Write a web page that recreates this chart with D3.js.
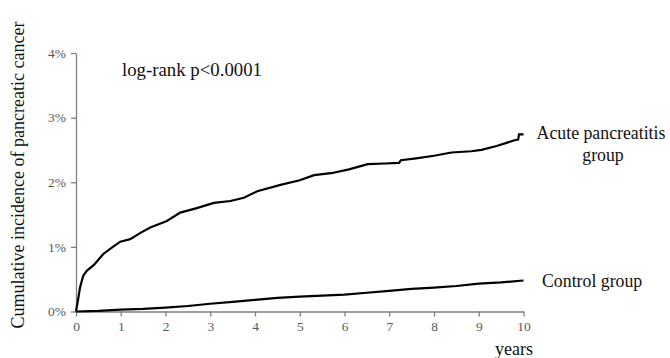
<!DOCTYPE html>
<html>
<head>
<meta charset="utf-8">
<script src="https://cdn.jsdelivr.net/npm/d3@7"></script>
<style>
  body { margin: 0; background: #fff; }
</style>
</head>
<body>
<div class="chart"></div>
<script>
var svgWidth = 670;
var svgHeight = 358;
var serif = "Liberation Serif";

// values (years, % cumulative incidence)
var acuteYears = [0, 0.05, 0.09, 0.16, 0.24, 0.4, 0.61, 0.8, 0.99, 1.21, 1.45, 1.66, 2.03, 2.33, 2.7, 3.08, 3.45, 3.75, 4.05, 4.57, 5.0, 5.32, 5.7, 6.1, 6.52, 6.9, 7.22, 7.26, 7.6, 8.0, 8.39, 8.83, 9.06, 9.4, 9.8, 9.88, 9.9, 10];
var acuteValues = [0, 0.2, 0.37, 0.55, 0.63, 0.72, 0.89, 0.99, 1.08, 1.12, 1.22, 1.30, 1.40, 1.53, 1.60, 1.68, 1.71, 1.76, 1.86, 1.96, 2.03, 2.11, 2.14, 2.20, 2.28, 2.29, 2.30, 2.34, 2.37, 2.41, 2.46, 2.48, 2.50, 2.56, 2.65, 2.66, 2.74, 2.74];

var controlYears = [0, 0.5, 1, 1.5, 2, 2.5, 3, 3.5, 4, 4.5, 5, 5.5, 6, 6.5, 7, 7.5, 8, 8.5, 9, 9.5, 10];
var controlValues = [0, 0.01, 0.03, 0.04, 0.06, 0.085, 0.12, 0.15, 0.18, 0.21, 0.23, 0.245, 0.26, 0.29, 0.32, 0.35, 0.37, 0.395, 0.43, 0.45, 0.48];

var xTicks = [0, 1, 2, 3, 4, 5, 6, 7, 8, 9, 10];
var yTicks = [0, 1, 2, 3, 4];

var svg = d3.select(".chart")
  .append("svg")
  .attr("width", svgWidth)
  .attr("height", svgHeight);

var x = d3.scaleLinear().domain([0, 10]).range([76, 523.5]);
var y = d3.scaleLinear().domain([0, 4]).range([311.5, 53]);

// axes
var xAxis = svg.append("g")
  .attr("transform", "translate(0," + y(0) + ")")
  .call(d3.axisBottom(x).tickValues(xTicks).tickSize(5).tickSizeOuter(0).tickPadding(5));

var yAxis = svg.append("g")
  .attr("transform", "translate(" + x(0) + ",0)")
  .call(d3.axisLeft(y).tickValues(yTicks).tickSize(5).tickSizeOuter(0).tickPadding(5)
    .tickFormat(function(d) { return d + "%"; }));

[xAxis, yAxis].forEach(function(g) {
  g.attr("font-family", serif).attr("font-size", 13.5);
  g.selectAll("text").attr("fill", "#595959");
  g.selectAll("path, line").attr("stroke", "#7f7f7f").attr("stroke-width", 1.3);
});

// curves
var line = d3.line()
  .x(function(d) { return x(d[0]); })
  .y(function(d) { return y(d[1]); });

svg.append("path")
  .datum(d3.zip(acuteYears, acuteValues))
  .attr("d", line)
  .attr("fill", "none")
  .attr("stroke", "#000")
  .attr("stroke-width", 2.2);

svg.append("path")
  .datum(d3.zip(controlYears, controlValues))
  .attr("d", line)
  .attr("fill", "none")
  .attr("stroke", "#000")
  .attr("stroke-width", 2.2);

// labels
function label(px, py, txt, anchor, size) {
  return svg.append("text")
    .attr("x", px).attr("y", py)
    .attr("text-anchor", anchor || "start")
    .attr("font-family", serif)
    .attr("font-size", size || 18)
    .attr("fill", "#111")
    .text(txt);
}

label(0, 0, "Cumulative incidence of pancreatic cancer", "middle")
  .attr("transform", "translate(24,175) rotate(-90)");
label(122, 76, "log-rank p<0.0001", "start", 18.8);
label(601, 139, "Acute pancreatitis", "middle", 17.8);
label(603, 161, "group", "middle", 17.8);
label(542, 287, "Control group", "start", 17.8);
label(495, 355, "years");
</script>
</body>
</html>
